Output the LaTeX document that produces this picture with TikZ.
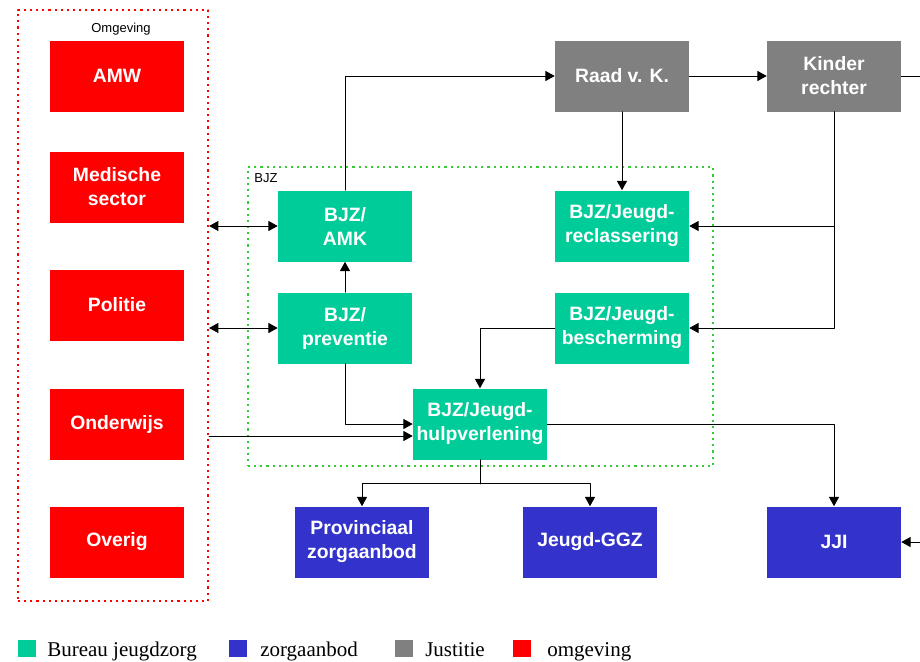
\documentclass[tikz,border=0pt]{standalone}
\usepackage{fontspec}
\setmainfont{Liberation Sans}
\newfontfamily\legfont{Liberation Serif}
\usetikzlibrary{calc,arrows.meta}

\definecolor{bjzgreen}{RGB}{0,204,153}
\definecolor{zorgblue}{RGB}{51,51,204}
\definecolor{justgray}{RGB}{128,128,128}
\definecolor{omgred}{RGB}{255,0,0}
\definecolor{dotgreen}{RGB}{51,204,51}

\begin{document}
\begin{tikzpicture}[x=0.75pt, y=-0.75pt, line cap=round, line join=round,
  box/.style={minimum width=100.5pt, minimum height=53.25pt, inner sep=0pt,
    align=center, text=white, font=\bfseries\fontsize{14.5}{18}\selectfont},
  bjz/.style={box, fill=bjzgreen},
  zorg/.style={box, fill=zorgblue},
  just/.style={box, fill=justgray},
  omg/.style={box, fill=omgred},
  dotbox/.style={line width=1.6pt, line cap=butt, dash pattern=on 1.6pt off 3pt},
  small/.style={font=\fontsize{9.75}{11}\selectfont, inner sep=0pt},
  conn/.style={line width=0.75pt, -{Triangle[length=7pt,width=7.5pt]}},
  twoway/.style={line width=0.75pt, {Triangle[length=7pt,width=7.5pt]}-{Triangle[length=7pt,width=7.5pt]}}]
  \useasboundingbox (0,0) rectangle (920,661);

  % omgeving
  \node[draw=omgred, dotbox, minimum width=142.5pt, minimum height=443.25pt,
    inner sep=0pt] (omgbox) at (113,305.5) {};
  \node[small] (omglbl) at (121,29) {Omgeving};
  \node[omg] (amw) at (117,76) {AMW};
  \node[omg] (med) at (117,187) {Medische\\sector};
  \node[omg] (pol) at (117,305) {Politie};
  \node[omg] (ond) at (117,424) {Onderwijs};
  \node[omg] (ovr) at (117,542) {Overig};

  % Bureau jeugdzorg
  \node[draw=dotgreen, dotbox, minimum width=348.75pt, minimum height=224.25pt,
    inner sep=0pt] (bjzbox) at (480.5,316.5) {};
  \node[small] (bjzlbl) at (266,178) {BJZ};
  \node[bjz] (amk) at (345,226) {BJZ/\\AMK};
  \node[bjz] (prev) at (345,328) {BJZ/\\preventie};
  \node[bjz] (recl) at (622,226) {BJZ/Jeugd-\\reclassering};
  \node[bjz] (besch) at (622,328) {BJZ/Jeugd-\\bescherming};
  \node[bjz] (hulp) at (480,424) {BJZ/Jeugd-\\hulpverlening};

  % justitie
  \node[just] (raad) at (622,76) {Raad v. K.};
  \node[just] (kind) at (834,76) {Kinder\\rechter};

  % zorgaanbod
  \node[zorg] (prov) at (362,542) {Provinciaal\\zorgaanbod};
  \node[zorg] (ggz) at (590,542) {Jeugd-GGZ};
  \node[zorg] (jji) at (834,542) {JJI};

  % losse eindpunten
  \coordinate (kindR) at (920,76);
  \coordinate (jjiR) at (920,542);
  \coordinate (hulpin) at ($(hulp.west)+(0,12)$);
  \coordinate (split) at ($(hulp.south)+(0,24)$);

  % verbindingen
  \draw[twoway] (omgbox.east |- amk) -- (amk);
  \draw[twoway] (omgbox.east |- prev) -- (prev);
  \draw[conn] (omgbox.east |- hulpin) -- (hulpin);
  \draw[conn] (amk.north) |- (raad.west);
  \draw[conn] (prev) -- (amk);
  \draw[conn] (prev.south) |- (hulp.west);
  \draw[conn] (raad) -- (recl);
  \draw[conn] (raad) -- (kind);
  \draw[line width=0.75pt] (kind.east) -- (kindR);
  \draw[conn] (kind.south) |- (recl.east);
  \draw[conn] (kind.south) |- (besch.east);
  \draw[conn] (besch.west) -| (hulp.north);
  \draw[conn] (hulp.east) -| (jji.north);
  \draw[line width=0.75pt] (hulp.south) -- (split);
  \draw[conn] (split) -| (prov.north);
  \draw[conn] (split) -| (ggz.north);
  \draw[conn] (jjiR) -- (jji.east);

  % legenda
  \foreach \sx/\tx/\col/\txt in {18/47/bjzgreen/Bureau jeugdzorg,
      229/260/zorgblue/zorgaanbod, 395/425/justgray/Justitie,
      513/547/omgred/omgeving}
  {
    \node[fill=\col, minimum width=13.5pt, minimum height=12.75pt, inner sep=0pt]
      (sq\col) at (\sx+9,648) {};
    \node[anchor=base west, inner sep=0pt, font=\legfont\fontsize{15.75}{18}\selectfont]
      (lbl\col) at (\tx,656) {\txt};
  }
\end{tikzpicture}
\end{document}
